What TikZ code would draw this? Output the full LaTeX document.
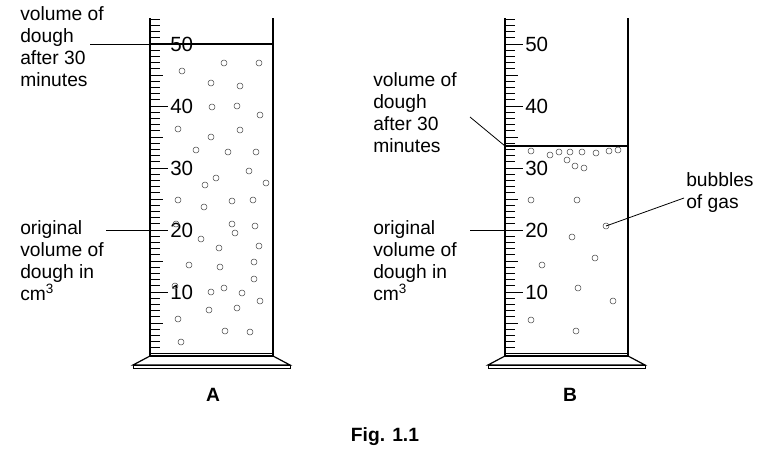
\documentclass[tikz,border=0pt]{standalone}
\usepackage{fontspec}
\setmainfont{Liberation Sans}
\usetikzlibrary{positioning}

\begin{document}
\begin{tikzpicture}[x = 0.0265cm, y = -0.0265cm]
\tikzset{
lbl/.style = {align = left, font = \fontsize{14.5}{16.6}\selectfont, inner sep = 0pt, anchor = north west},
num/.style = {font = \fontsize{15.5}{17}\selectfont, anchor = west, inner sep = 0pt},
figcap/.style = {font = \fontsize{14.5}{17}\selectfont\bfseries},
bub/.style = {draw = black!70, line width = 0.4pt},
wall/.style = {line width = 0.9pt},
ptr/.style = {line width = 0.6pt}}
\useasboundingbox (0,0) rectangle (769,467);
% the two cylinders
\foreach \ox in {0, 355} {
\begin{scope}[xshift = \ox*0.0265cm]
\draw[wall] (150,18) -- (150,356) -- (273,356) -- (273,18);
\draw[line width = 0.6pt] (150,353) -- (273,353);
\draw[wall] (150,356) -- (133,365) -- (290,365) -- (273,356);
\draw[line width = 0.6pt] (133,365) rectangle (290,368);
\foreach \i in {1,...,54} {
\pgfmathsetmacro{\len}{ifthenelse(mod(\i,10)==0, 18, ifthenelse(mod(\i,5)==0, 13, 10))}
\draw[line width = 0.5pt] (150,354-6.2*\i) -- ++(\len,0);
}
\foreach \v in {1,...,5}
\node[num] (n\v\ox) at (170,354-62*\v) {\v0};
\end{scope}
}
% cylinder A
\draw[line width = 0.9pt] (150,44) -- (273,44);
\node[lbl] (afterA) at (20,6) {volume of\\dough\\after 30\\minutes};
\coordinate (mA) at (150,44);
\draw[ptr] (90,44) -- (mA);
\node[lbl] (origA) at (20,220) {original\\volume of\\dough in\\cm\textsuperscript{3}};
\coordinate (oA) at (150,230);
\draw[ptr] (106,230) -- (oA);
\foreach \x/\y in {182/71,224/63,259/63,211/83,240/86,212/107,237/106,178/129,260/115,211/137,240/130,
196/150,228/152,256/152,249/171,216/178,205/185,178/200,266/183,232/201,204/207,253/200,232/224,
255/226,176/224,201/239,235/233,219/248,259/246,189/265,220/267,254/262,175/286,254/279,211/292,
224/288,242/293,260/301,209/310,237/308,178/319,225/331,250/332,181/342}
\draw[bub] (\x,\y) circle (3);
% cylinder B
\draw[line width = 0.9pt] (505,146) -- (628,146);
\node[lbl] (afterB) at (373,72) {volume of\\dough\\after 30\\minutes};
\coordinate (mB) at (505,146);
\draw[ptr] (470,117) -- (mB);
\node[lbl] (origB) at (373,220) {original\\volume of\\dough in\\cm\textsuperscript{3}};
\coordinate (oB) at (505,230);
\draw[ptr] (470,230) -- (oB);
\foreach \x/\y in {531/151,550/155,559/152,570/152,582/152,596/153,609/151,618/150,567/160,
575/166,584/168,531/200,577/200,572/237,595/258,542/265,578/288,531/320,613/301,576/331}
\draw[bub] (\x,\y) circle (3);
\draw[bub] (606,226) coordinate (gas) circle (3);
\node[lbl] (bubB) at (686,172) {bubbles\\of gas};
\draw[ptr] (684,198) -- (gas);
% captions
\node[figcap] (capA) at (213,395) {A};
\node[figcap] (capB) at (570,395) {B};
\node[figcap] (fig) at (385,437) {Fig. 1.1};
\end{tikzpicture}
\end{document}
